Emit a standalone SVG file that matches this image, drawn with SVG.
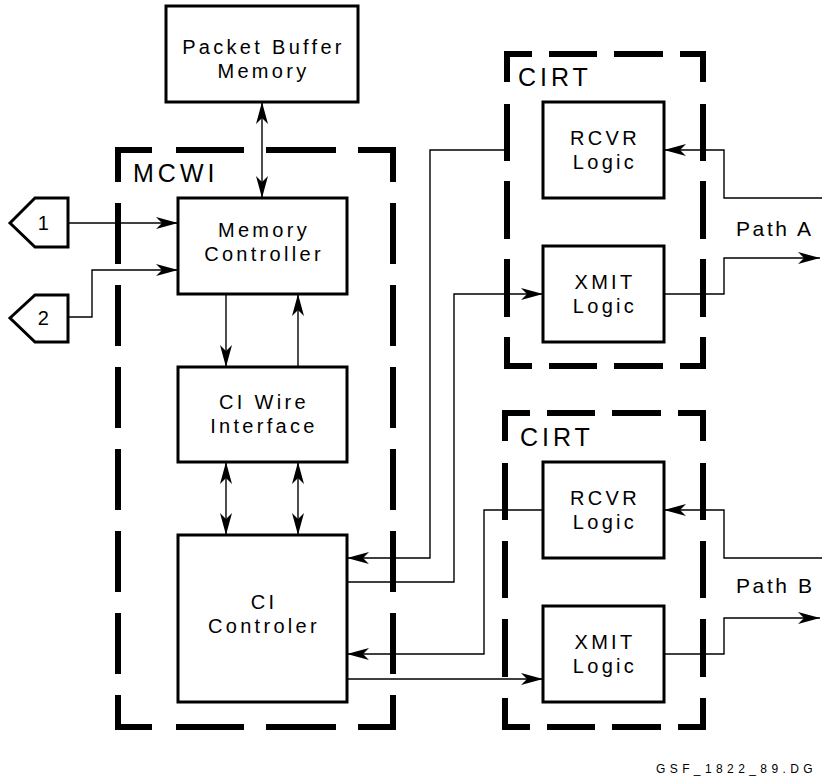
<svg xmlns="http://www.w3.org/2000/svg" width="822" height="781" viewBox="0 0 822 781">
<style>
.box{fill:#fff;stroke:#000;stroke-width:3;}
.dash{fill:none;stroke:#000;stroke-width:6;stroke-linecap:butt;stroke-linejoin:miter;}
.ln{fill:none;stroke:#000;stroke-width:1.4;}
.arr{marker-end:url(#ah);}
.dbl{marker-end:url(#ah);marker-start:url(#ah);}
text{font-family:"Liberation Sans",Arial,sans-serif;fill:#000;}
.t{font-size:20px;letter-spacing:3.3px;text-anchor:middle;}
.big{font-size:25px;letter-spacing:4px;}
.path{font-size:21px;letter-spacing:2.6px;}
.id{font-size:12px;letter-spacing:4.4px;}
</style>
<defs>
<marker id="ah" viewBox="0 0 22 12" refX="22" refY="6" markerWidth="22" markerHeight="12" markerUnits="userSpaceOnUse" orient="auto-start-reverse">
<path d="M0,0 L22,6 L0,12 L6,6 Z" fill="#000"/>
</marker>
</defs>
<rect width="822" height="781" fill="#fff"/>

<g id="mcwi">
<path class="dash" d="M118,182 V150 H152 M176,150 H244 M266,150 H336 M358,150 H393 V182 M393,203 V264 M393,285 V346 M393,367 V428 M393,449 V510 M393,531 V592 M393,613 V674 M393,695 V727 H358 M336,727 H266 M244,727 H176 M152,727 H118 V695 M118,674 V613 M118,592 V531 M118,510 V449 M118,428 V367 M118,346 V285 M118,264 V203"/>
<text class="big" x="133" y="182">MCWI</text>
</g>

<g id="cirt-a">
<path class="dash" d="M507,82 V54 H532 M549,54 H597 M614,54 H663 M680,54 H703 V82 M703,104 V161 M703,181 V239 M703,259 V317 M703,337 V366 H680 M663,366 H614 M597,366 H549 M532,366 H507 V337 M507,317 V259 M507,239 V181 M507,161 V104"/>
<text class="big" x="518" y="86">CIRT</text>
</g>

<g id="cirt-b">
<path class="dash" d="M505,441 V413 H530 M547,413 H595 M612,413 H661 M678,413 H703 V441 M703,463 V520 M703,541 V598 M703,619 V677 M703,698 V727 H678 M661,727 H612 M595,727 H547 M530,727 H505 V698 M505,677 V619 M505,598 V541 M505,520 V463"/>
<text class="big" x="520" y="446">CIRT</text>
</g>

<g id="connectors">
<line class="ln dbl" x1="262" y1="102" x2="262" y2="198"/>
<line class="ln arr" x1="226" y1="294" x2="226" y2="367"/>
<line class="ln arr" x1="298" y1="367" x2="298" y2="294"/>
<line class="ln dbl" x1="226" y1="462" x2="226" y2="535"/>
<line class="ln dbl" x1="298" y1="462" x2="298" y2="535"/>
<line class="ln arr" x1="68" y1="223" x2="178" y2="223"/>
<polyline class="ln arr" points="68,317 92,317 92,270 178,270"/>
<polyline class="ln arr" points="507,150 430,150 430,558 347,558"/>
<polyline class="ln arr" points="347,582 454,582 454,294 543,294"/>
<polyline class="ln arr" points="543,510 484,510 484,654 347,654"/>
<line class="ln arr" x1="347" y1="679" x2="543" y2="679"/>
<polyline class="ln arr" points="822,198 724,198 724,150 664,150"/>
<polyline class="ln arr" points="664,294 724,294 724,258 820,258"/>
<polyline class="ln arr" points="822,558 724,558 724,510 664,510"/>
<polyline class="ln arr" points="664,654 724,654 724,618 820,618"/>
</g>

<g id="packet-buffer">
<rect class="box" x="166" y="6" width="192" height="96"/>
<text class="t" x="263.5" y="54">Packet Buffer</text>
<text class="t" x="263.5" y="78">Memory</text>
</g>

<g id="memory-controller">
<rect class="box" x="178" y="198" width="169" height="96"/>
<text class="t" x="264" y="237">Memory</text>
<text class="t" x="264" y="261">Controller</text>
</g>

<g id="ci-wire">
<rect class="box" x="178" y="367" width="169" height="95"/>
<text class="t" x="264" y="409">CI Wire</text>
<text class="t" x="264" y="433">Interface</text>
</g>

<g id="ci-controler">
<rect class="box" x="178" y="535" width="169" height="167"/>
<text class="t" x="264" y="609">CI</text>
<text class="t" x="264" y="633">Controler</text>
</g>

<g id="rcvr-a">
<rect class="box" x="543" y="102" width="121" height="96"/>
<text class="t" x="605" y="145">RCVR</text>
<text class="t" x="605" y="169">Logic</text>
</g>

<g id="xmit-a">
<rect class="box" x="543" y="246" width="121" height="96"/>
<text class="t" x="605" y="289">XMIT</text>
<text class="t" x="605" y="313">Logic</text>
</g>

<g id="rcvr-b">
<rect class="box" x="543" y="462" width="121" height="96"/>
<text class="t" x="605" y="505">RCVR</text>
<text class="t" x="605" y="529">Logic</text>
</g>

<g id="xmit-b">
<rect class="box" x="543" y="606" width="121" height="96"/>
<text class="t" x="605" y="649">XMIT</text>
<text class="t" x="605" y="673">Logic</text>
</g>

<g id="port-1">
<polygon class="box" points="10,223 35,198 68,198 68,247 35,247"/>
<text class="t" x="45" y="230">1</text>
</g>

<g id="port-2">
<polygon class="box" points="10,318 35,295 68,295 68,342 35,342"/>
<text class="t" x="45" y="325">2</text>
</g>

<text class="path" x="736" y="236">Path A</text>
<text class="path" x="736" y="593">Path B</text>
<text class="id" x="656" y="773">GSF_1822_89.DG</text>
</svg>
